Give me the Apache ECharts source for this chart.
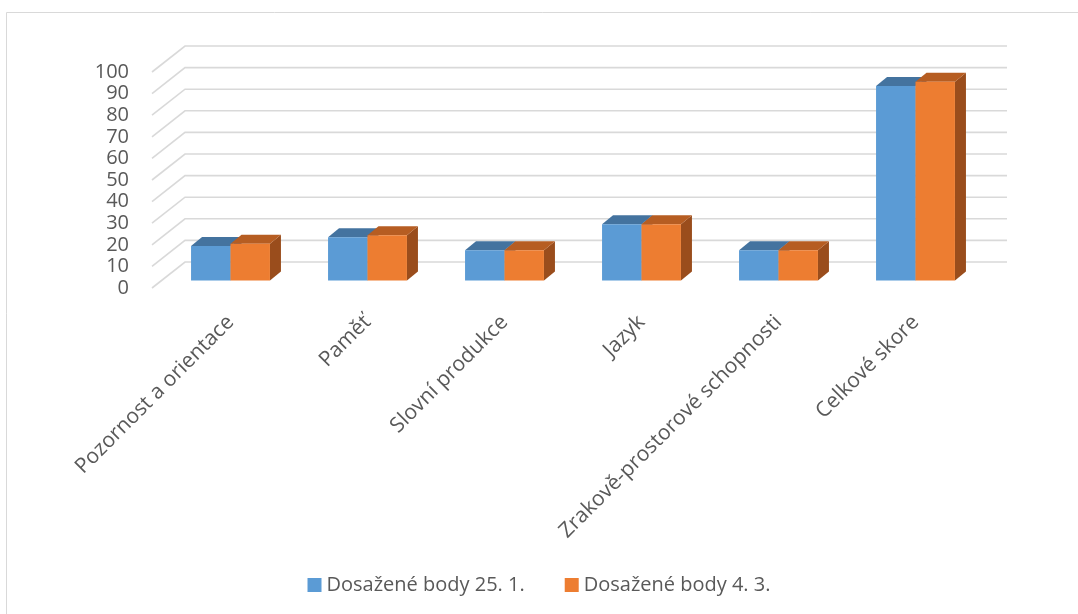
<!DOCTYPE html>
<html>
<head>
<meta charset="utf-8">
<script src="https://cdn.jsdelivr.net/npm/echarts@6/dist/echarts.min.js"></script>
<style>
  html, body { margin: 0; padding: 0; background: #ffffff; }
  #chart { width: 1078px; height: 614px; }
</style>
</head>
<body>
<div id="chart"></div>
<script>
// Categories of the test and the scores reached on the two dates
const categories = [
  'Pozornost a orientace',
  'Paměť',
  'Slovní produkce',
  'Jazyk',
  'Zrakově-prostorové schopnosti',
  'Celkové skore'
];
const seriesNames = ['Dosažené body 25. 1.', 'Dosažené body 4. 3.'];
const scores2501 = [16, 20, 14, 26, 14, 90];
const scores0403 = [17, 21, 14, 26, 14, 92];
const valueTicks = [0, 10, 20, 30, 40, 50, 60, 70, 80, 90, 100];

// Face colours of the pseudo-3D columns: front, top, right side
const FRONT = ['#5B9BD5', '#ED7D31'];
const TOP = ['#44739F', '#B65D22'];
const SIDE = ['#3A628A', '#9A4D1C'];

// Oblique projection of the chart box
const WALL_SHIFT_X = -10;           // front edge of the floor relative to the grid
const WALL_DX = 33, WALL_DY = -26;  // depth of floor / back wall
const BAR_DY = -7.5;                // columns stand slightly behind the front edge
const BAR_DEPTH_DX = 11, BAR_DEPTH_DY = -9;
const BAR_FRACTION = 0.288;         // width of one column as part of a category band
const TEXT = '#595959';
const FONT = 'Open Sans';

const chart = echarts.init(document.getElementById('chart'), null, { renderer: 'canvas' });

function columnRenderer(s) {
  return function (params, api) {
    const cat = api.value(0);
    const v = api.value(1);
    const base = api.coord([cat, 0]);
    const top = api.coord([cat, v]);
    const band = api.size([1, 0])[0];
    const w = band * BAR_FRACTION;
    const x0 = base[0] - w + s * w;
    const x1 = x0 + w;
    const yb = base[1] + BAR_DY;
    const yt = top[1] + BAR_DY;
    const dx = BAR_DEPTH_DX, dy = BAR_DEPTH_DY;
    return {
      type: 'group',
      children: [
        { type: 'polygon', shape: { points: [[x1, yb], [x1 + dx, yb + dy], [x1 + dx, yt + dy], [x1, yt]] },
          style: { fill: SIDE[s] } },
        { type: 'polygon', shape: { points: [[x0, yt], [x1, yt], [x1 + dx, yt + dy], [x0 + dx, yt + dy]] },
          style: { fill: TOP[s] } },
        { type: 'rect', shape: { x: x0, y: yt, width: w, height: yb - yt },
          style: { fill: FRONT[s] } }
      ]
    };
  };
}

function gridLineRenderer(params, api) {
  const cs = params.coordSys;
  const y = api.coord([0, api.value(1)])[1];
  const xf = cs.x + WALL_SHIFT_X;
  const xr = cs.x + cs.width + WALL_SHIFT_X + WALL_DX;
  return {
    type: 'polyline',
    shape: { points: [[xf, y], [xf + WALL_DX, y + WALL_DY], [xr, y + WALL_DY]] },
    style: { stroke: '#D9D9D9', lineWidth: 1.6, fill: null }
  };
}

const option = {
  backgroundColor: '#ffffff',
  animation: false,
  graphic: [{
    type: 'rect',
    left: 4, top: 10,
    shape: { width: 1090, height: 620 },
    style: { fill: null, stroke: '#D9D9D9', lineWidth: 1 },
    silent: true, z: -10
  }],
  grid: { left: 162, right: 94, top: 72, bottom: 326 },
  legend: {
    top: 570,
    left: 'center',
    itemWidth: 14,
    itemHeight: 14,
    itemGap: 40,
    icon: 'rect',
    textStyle: { color: TEXT, fontSize: 20, fontFamily: FONT },
    data: [
      { name: seriesNames[0], itemStyle: { color: FRONT[0] } },
      { name: seriesNames[1], itemStyle: { color: FRONT[1] } }
    ]
  },
  xAxis: {
    type: 'category',
    data: categories,
    axisLine: { show: false },
    axisTick: { show: false },
    splitLine: { show: false },
    axisLabel: {
      rotate: 45,
      interval: 0,
      margin: 31,
      color: TEXT,
      fontSize: 21,
      fontFamily: FONT
    }
  },
  yAxis: {
    type: 'value',
    min: 0,
    max: 100,
    interval: 10,
    axisLine: { show: false },
    axisTick: { show: false },
    splitLine: { show: false },
    axisLabel: { margin: 33, color: TEXT, fontSize: 20, fontFamily: FONT }
  },
  series: [
    {
      type: 'custom',
      name: 'grid',
      silent: true,
      z: 1,
      renderItem: gridLineRenderer,
      data: valueTicks.map(v => [0, v])
    },
    {
      type: 'custom',
      name: seriesNames[0],
      z: 2,
      itemStyle: { color: FRONT[0] },
      renderItem: columnRenderer(0),
      data: scores2501.map((v, i) => [i, v])
    },
    {
      type: 'custom',
      name: seriesNames[1],
      z: 3,
      itemStyle: { color: FRONT[1] },
      renderItem: columnRenderer(1),
      data: scores0403.map((v, i) => [i, v])
    }
  ]
};

chart.setOption(option);
</script>
</body>
</html>
